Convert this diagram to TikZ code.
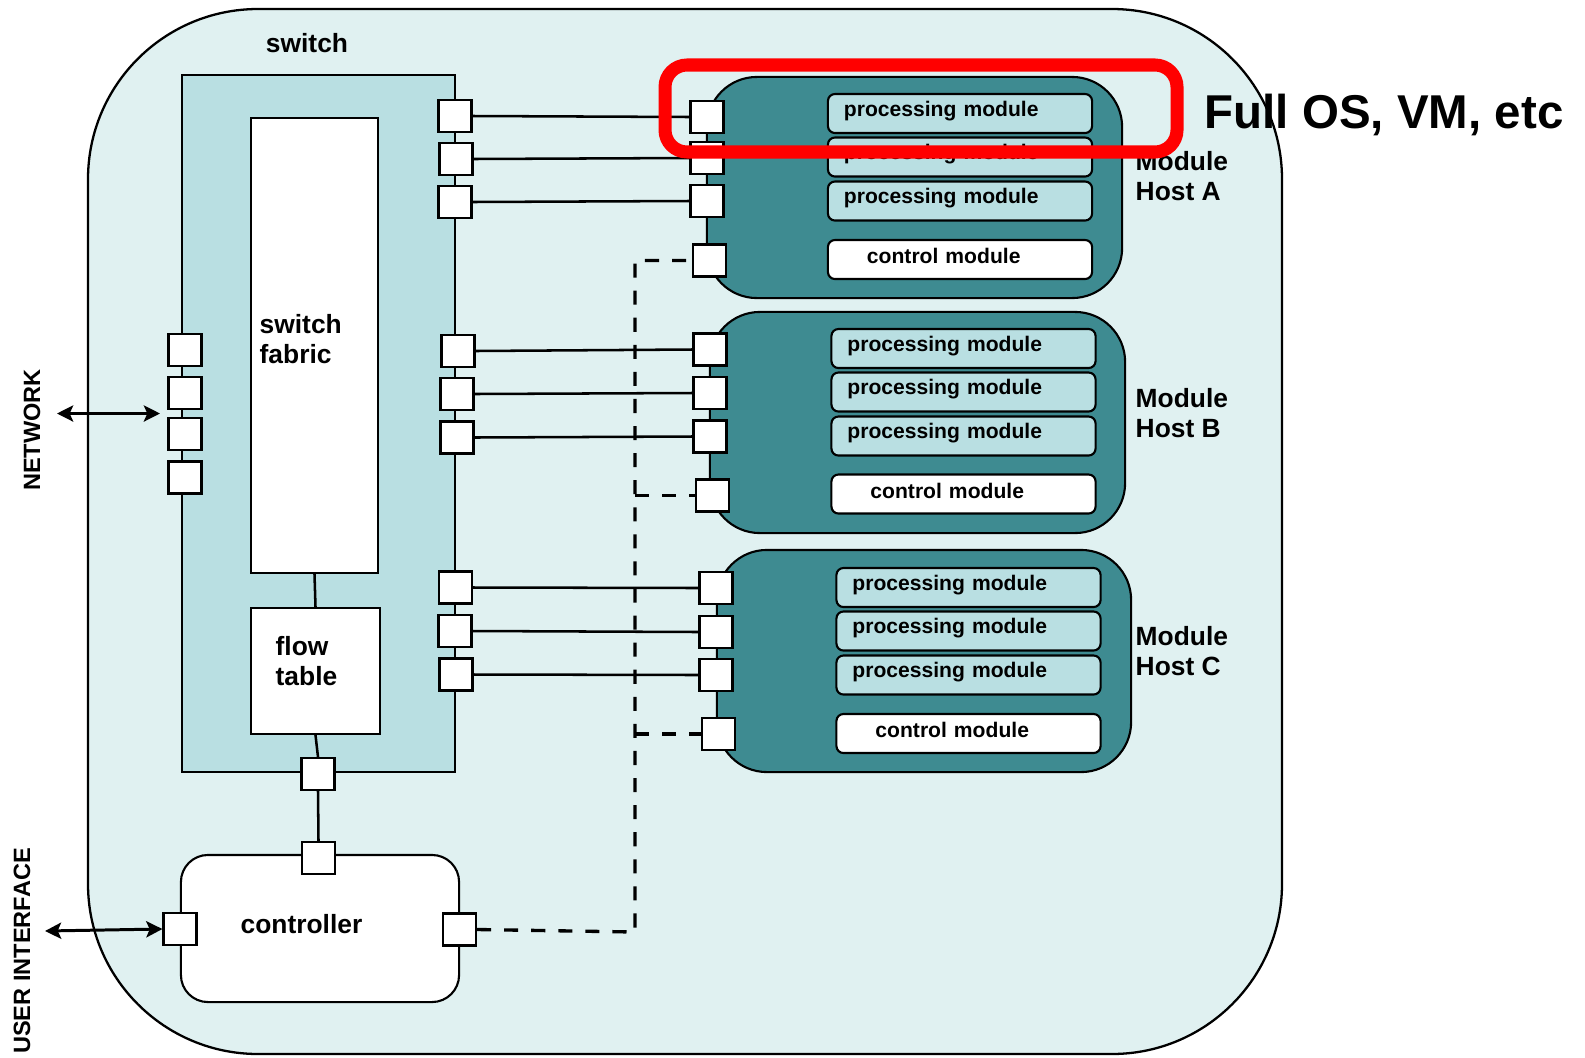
\documentclass[tikz,border=0pt]{standalone}
\usepackage{fontspec}
\setmainfont{Liberation Sans}
\usetikzlibrary{arrows.meta}

\definecolor{outerfill}{RGB}{224,241,241}
\definecolor{swfill}{RGB}{185,223,226}
\definecolor{hostfill}{RGB}{62,139,145}
\definecolor{hilite}{RGB}{255,0,0}

% bold text at a given size (pt) and line spacing (pt)
\newcommand\tsz[2]{\fontsize{#1}{#2}\selectfont\bfseries}

\tikzset{
  box/.style={draw, line width=0.6pt, inner sep=0pt},
  port/.style={box, fill=white, minimum width=0.33cm, minimum height=0.32cm},
  hostbox/.style={box, fill=hostfill, rounded corners=0.5cm,
                  minimum width=4.15cm, minimum height=2.21cm},
  pmod/.style={box, fill=swfill, rounded corners=0.07cm,
               minimum height=0.39cm, text width=2.64cm, align=left,
               text height=4.5pt, text depth=2.9pt, font=\tsz{6}{7}},
  cmod/.style={pmod, fill=white, text depth=2.2pt},
  link/.style={line width=0.72pt},
  ctrlline/.style={line width=0.95pt, dash pattern=on 4pt off 3.7pt},
  lbl/.style={inner sep=0pt, font=\tsz{7.5}{8.5}},
  bidir/.style={line width=0.85pt,
                {Stealth[length=4.6pt,width=4.6pt,inset=1pt]}-{Stealth[length=4.6pt,width=4.6pt,inset=1pt]}},
}

\newcommand\pmtext{\hspace*{0.16cm}processing module}
\newcommand\cmtext{\hspace*{0.39cm}control module}

\begin{document}
\begin{tikzpicture}[x=0.01cm, y=-0.01cm]
  \useasboundingbox (0,0) rectangle (1585,1057);
  \fill[white] (0,0) rectangle (1585,1057);

  % enclosing switch outline
  \draw[fill=outerfill, line width=0.65pt, rounded corners=1.7cm] (88,9) rectangle (1282,1054);
  \node[lbl, anchor=base] (swlabel) at (307,52) {switch};

  % switch body, fabric and flow table
  \node[box, fill=swfill, minimum width=2.73cm, minimum height=6.97cm] (sw) at (318.5,423.5) {};
  \node[box, fill=white, minimum width=1.27cm, minimum height=4.55cm] (fabric) at (314.5,345.5) {};
  \node[lbl, anchor=north west, align=left] (fabriclabel) at (259,314) {switch\\fabric};
  \node[box, fill=white, minimum width=1.29cm, minimum height=1.26cm] (flow) at (315.5,671) {};
  \node[lbl, anchor=north west, align=left] (flowlabel) at (275,636) {flow\\table};

  % controller
  \node[box, fill=white, rounded corners=0.27cm, minimum width=2.78cm, minimum height=1.47cm] (ctl) at (320,928.5) {};
  \node[lbl, anchor=base] (ctllabel) at (301.5,933) {controller};

  % module hosts
  \node[hostbox] (hA) at (914.5,187.5) {};
  \node[hostbox] (hB) at (917.5,422.5) {};
  \node[hostbox, minimum width=4.14cm, minimum height=2.22cm] (hC) at (924,661) {};

  % modules of host A
  \node[pmod] (mA1) at (960,113.5) {\pmtext};
  \node[pmod] (mA2) at (960,157) {\pmtext};
  \node[pmod] (mA3) at (960,201) {\pmtext};
  \node[cmod] (mAc) at (960,259.5) {\cmtext};
  % modules of host B
  \node[pmod] (mB1) at (963.5,348.5) {\pmtext};
  \node[pmod] (mB2) at (963.5,392) {\pmtext};
  \node[pmod] (mB3) at (963.5,436) {\pmtext};
  \node[cmod] (mBc) at (963.5,494) {\cmtext};
  % modules of host C
  \node[pmod] (mC1) at (968.5,587.5) {\pmtext};
  \node[pmod] (mC2) at (968.5,631) {\pmtext};
  \node[pmod] (mC3) at (968.5,675) {\pmtext};
  \node[cmod] (mCc) at (968.5,733.5) {\cmtext};

  % host names
  \node[lbl, anchor=north west, align=left] (hAlabel) at (1135,151) {Module\\Host A};
  \node[lbl, anchor=north west, align=left] (hBlabel) at (1135,388) {Module\\Host B};
  \node[lbl, anchor=north west, align=left] (hClabel) at (1135,626) {Module\\Host C};

  % network ports on the left of the switch
  \node[port] (L1) at (185,350) {};
  \node[port] (L2) at (185,393) {};
  \node[port] (L3) at (185,434) {};
  \node[port] (L4) at (185,477.5) {};

  % switch ports towards the hosts
  \node[port] (sA1) at (455,116) {};
  \node[port] (sA2) at (456,159) {};
  \node[port] (sA3) at (455,202) {};
  \node[port] (sB1) at (458,351) {};
  \node[port] (sB2) at (457,394) {};
  \node[port] (sB3) at (457,437.5) {};
  \node[port] (sC1) at (455.5,587.5) {};
  \node[port] (sC2) at (455,631) {};
  \node[port] (sC3) at (456,674.5) {};
  \node[port] (swb) at (318,774) {};

  % host ports
  \node[port] (pA1) at (707,117) {};
  \node[port] (pA2) at (707,158) {};
  \node[port] (pA3) at (707,201) {};
  \node[port] (pAc) at (709.5,260.5) {};
  \node[port] (pB1) at (710,349.5) {};
  \node[port] (pB2) at (710,393) {};
  \node[port] (pB3) at (710,436.5) {};
  \node[port] (pBc) at (712.5,495.5) {};
  \node[port] (pC1) at (716,588) {};
  \node[port] (pC2) at (716,632) {};
  \node[port] (pC3) at (716,675) {};
  \node[port] (pCc) at (718.5,734) {};

  % controller ports
  \node[port] (ctT) at (318.5,858) {};
  \node[port] (ctL) at (180,929) {};
  \node[port] (ctR) at (459.5,929.5) {};

  % internal links
  \draw[link] (fabric.south) -- (flow.north);
  \draw[link] (flow.south) -- (swb.north);
  \draw[link] (swb.south) -- (ctT.north);

  % data links switch -> hosts
  \draw[link] (sA1.east) -- (pA1.west);
  \draw[link] (sA2.east) -- (pA2.west);
  \draw[link] (sA3.east) -- (pA3.west);
  \draw[link] (sB1.east) -- (pB1.west);
  \draw[link] (sB2.east) -- (pB2.west);
  \draw[link] (sB3.east) -- (pB3.west);
  \draw[link] (sC1.east) -- (pC1.west);
  \draw[link] (sC2.east) -- (pC2.west);
  \draw[link] (sC3.east) -- (pC3.west);

  % control bus controller -> control modules
  \coordinate (busA) at (635,260.5);
  \coordinate (busB) at (635,495.5);
  \coordinate (busC) at (635,734);
  \coordinate (busD) at (635,932);
  \draw[ctrlline] (ctR.east) -- (busD) -- (busA) -- (pAc.west);
  \draw[ctrlline] (busB) -- (pBc.west);
  \draw[ctrlline] (busC) -- (pCc.west);

  % external interfaces
  \coordinate (netL) at (57,413.5);
  \coordinate (netR) at (160,413.5);
  \draw[bidir] (netL) -- (netR);
  \coordinate (uiL) at (45,931);
  \draw[bidir] (uiL) -- (ctL.west);
  \node[inner sep=0pt, rotate=90, font=\tsz{6.7}{7}] (netlabel) at (32,430) {NETWORK};
  \node[inner sep=0pt, rotate=90, font=\tsz{6.7}{7}] (uilabel) at (22,951) {USER INTERFACE};

  % highlight of a single processing module
  \node[inner sep=0pt, anchor=base west, font=\tsz{13.5}{15}] (oslabel) at (1204,128) {Full OS, VM, etc};
  \draw[hilite, line width=3.7pt, rounded corners=0.22cm] (665,65) rectangle (1177,152);
\end{tikzpicture}
\end{document}
